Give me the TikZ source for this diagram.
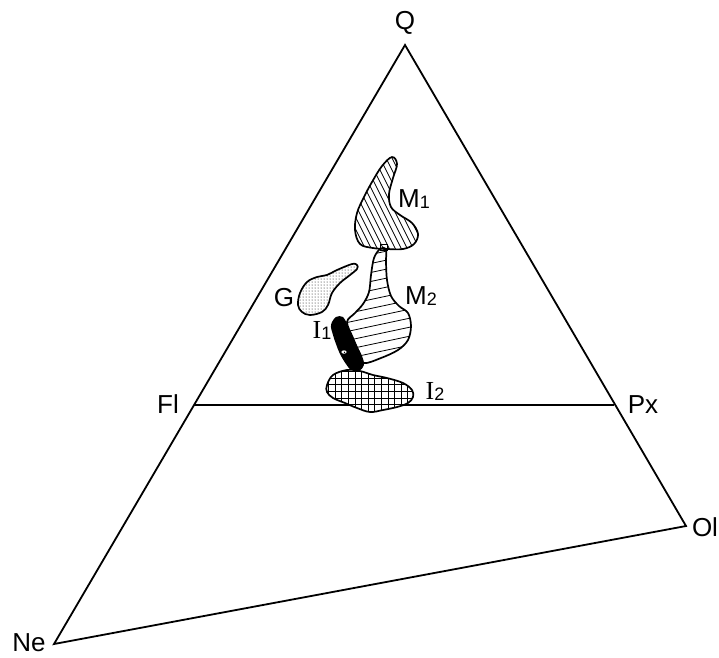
\documentclass[tikz,border=0pt]{standalone}
\usepackage{fontspec}
\setmainfont{Liberation Sans}
\newfontfamily\serfont{Liberation Serif}
\usetikzlibrary{patterns}
\newcommand\sbs[1]{{\fontsize{18}{19}\selectfont\raisebox{-1pt}{#1}}}
\begin{document}
\begin{tikzpicture}[x=1pt,y=-1pt,
  lbl/.style={font=\fontsize{26}{28}\selectfont, inner sep=0pt},
  edge/.style={line width=1.8pt, line join=miter},
  field/.style={line width=1.7pt},
  hatch/.style={line width=0.8pt}]
\useasboundingbox (0,0) rectangle (719,657);
% vertices
\coordinate (Q) at (405,45);
\coordinate (Ne) at (54,644);
\coordinate (Ol) at (686,526);
\coordinate (Fl) at (194,405);
\coordinate (Px) at (614,405);
\draw[edge] (Q) -- (Ol) -- (Ne) -- cycle;
\draw[edge] (Fl) -- (Px);
% labels
\node[lbl] (lQ) at (405,23) {Q};
\node[lbl] (lNe) at (29,643) {Ne};
\node[lbl] (lOl) at (705,527) {Ol};
\node[lbl] (lFl) at (168,404) {Fl};
\node[lbl] (lPx) at (643,405) {Px};
\node[lbl] (lG) at (284,298) {G};
\node[lbl] (lM1) at (414,199) {M\sbs{1}};
\node[lbl] (lM2) at (421,296) {M\sbs{2}};
\node[lbl] (lI1) at (322,330) {{\serfont I}\sbs{1}};
\node[lbl] (lI2) at (435,391) {{\serfont I}\sbs{2}};
% M1 field
\def\Mone{(392,157) (397,164) (393,178) (389,194) (391,207) (400,215) (412,223) (418,234) (414,244) (403,249) (387,249) (373,248) (360,244) (355,230) (357,213) (364,197) (372,182) (382,166)}
\begin{scope}
  \clip plot[smooth cycle, tension=0.6] coordinates {\Mone};
  \foreach \i in {280,286,...,430} \draw[hatch] (\i,150) -- ++(55,110);
\end{scope}
\draw[field] plot[smooth cycle, tension=0.6] coordinates {\Mone};
% M2 field
\def\Mtwo{(380,249) (386,249) (386,262) (387,280) (391,296) (399,306) (408,313) (411,326) (408,340) (398,350) (381,358) (364,363) (359,352) (353,338) (347,322) (355,313) (363,304) (369,292) (371,275) (374,258)}
\begin{scope}
  \clip plot[smooth cycle, tension=0.55] coordinates {\Mtwo};
  \foreach \y in {252,261,...,390} \draw[hatch] (340,\y) -- (420,\y-17);
\end{scope}
\draw[field] plot[smooth cycle, tension=0.55] coordinates {\Mtwo};
\draw[line width=1pt] (380.5,244.5) rectangle (387,250.5);
% G field
\def\Gf{(357,265) (352,264) (337,270) (327,275) (317,277) (307,282) (300,293) (298,305) (302,312) (310,315) (322,312) (328,305) (332,293) (340,283) (350,275) (357,269)}
\fill[pattern=dots] plot[smooth cycle, tension=0.6] coordinates {\Gf};
\draw[field] plot[smooth cycle, tension=0.6] coordinates {\Gf};
% I1 field
\fill[black] plot[smooth cycle, tension=0.6] coordinates {(336,317) (331,325) (333,335) (336,344) (340,354) (346,364) (352,371) (359,371) (364,365) (362,356) (357,346) (352,336) (347,324) (343,317)};
\fill[white] (344,352) ellipse [x radius=2.6, y radius=1.7];
\fill[black] (344.5,352.3) circle [radius=0.7];
% I2 field
\def\Itwo{(327,385) (333,375) (347,370) (360,371) (373,375) (387,378) (403,383) (412,390) (413,397) (408,403) (397,407) (383,410) (370,412) (357,408) (345,403) (333,398) (327,392)}
\fill[white] plot[smooth cycle, tension=0.6] coordinates {\Itwo};
\begin{scope}
  \clip plot[smooth cycle, tension=0.6] coordinates {\Itwo};
  \foreach \x in {322,328.6,...,420} \draw[hatch] (\x,365) -- (\x,420);
  \foreach \y in {365,371.6,...,420} \draw[hatch] (320,\y) -- (420,\y);
\end{scope}
\draw[field] plot[smooth cycle, tension=0.6] coordinates {\Itwo};
\end{tikzpicture}
\end{document}
